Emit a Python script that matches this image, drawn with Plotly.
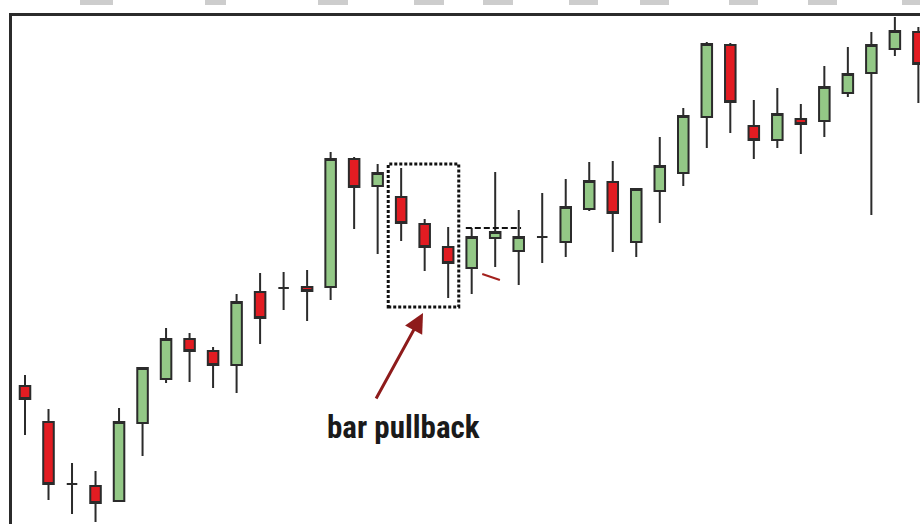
import plotly.graph_objects as go

# ---- data (price points) ----
bars = list(range(39))
open_ = [138, 102, 40, 38, 23, 101, 145, 185, 173, 159, 232, 236, 237, 237, 365, 338, 327, 300, 277, 256,
         286, 273, 287, 282, 315, 342, 282, 333, 351, 407, 479, 398, 384, 405, 403, 431, 451, 475, 492]
high = [149, 115, 61, 53, 116, 157, 196, 191, 177, 230, 251, 252, 254, 372, 367, 360, 356, 305, 297, 296,
        352, 314, 331, 345, 362, 363, 335, 387, 416, 482, 481, 424, 436, 420, 458, 477, 492, 507, 497]
low = [89, 24, 10, 2, 23, 68, 141, 142, 136, 131, 180, 214, 203, 224, 295, 270, 283, 253, 226, 230,
       257, 239, 261, 267, 313, 272, 267, 301, 338, 376, 391, 365, 376, 370, 387, 427, 309, 468, 421]
close = [125, 40, 40, 21, 102, 156, 185, 173, 159, 222, 206, 236, 233, 365, 337, 351, 301, 277, 261, 287,
         292, 287, 287, 317, 343, 311, 335, 358, 408, 480, 422, 384, 410, 400, 437, 450, 479, 493, 460]

label_text = "bar pullback"

W, H = 920, 524
GREEN = "#93c886"
RED = "#e21c22"
EDGE = "#2b2b2b"

fig = go.Figure(go.Candlestick(
    x=bars, open=open_, high=high, low=low, close=close,
    increasing=dict(fillcolor=GREEN, line=dict(color=EDGE, width=2)),
    decreasing=dict(fillcolor=RED, line=dict(color=EDGE, width=2)),
    whiskerwidth=0,
    showlegend=False,
))

def px(x):
    return x / W

def py(y):
    return 1 - y / H

shapes = []
# grey tabs at the very top
for x0, x1 in [(80, 113), (205, 226), (318, 348), (414, 444), (483, 513), (569, 598),
               (640, 669), (729, 758), (808, 837), (902, 925)]:
    shapes.append(dict(type="rect", xref="paper", yref="paper", x0=px(x0), x1=px(x1),
                       y0=py(5), y1=py(-2), fillcolor="#cdcdcd", line=dict(width=0), layer="above"))
# frame (left and top edges)
shapes.append(dict(type="line", xref="paper", yref="paper", x0=px(10.5), x1=px(10.5),
                   y0=py(530), y1=py(13), line=dict(color=EDGE, width=3)))
shapes.append(dict(type="line", xref="paper", yref="paper", x0=px(9), x1=px(925),
                   y0=py(14.5), y1=py(14.5), line=dict(color=EDGE, width=3)))
# dotted box around the pullback bars
shapes.append(dict(type="rect", xref="x", yref="y", x0=15.45, x1=18.45, y0=217, y1=360,
                   line=dict(color="#111111", width=3, dash="3px,2px"), layer="above"))
# dashed line over the following bars
shapes.append(dict(type="line", xref="x", yref="y", x0=18.75, x1=21.1, y0=296, y1=296,
                   line=dict(color="#111111", width=2, dash="6px,3px")))
# small red stroke
shapes.append(dict(type="line", xref="x", yref="y", x0=19.45, x1=20.2, y0=250, y1=244,
                   line=dict(color="#a3201c", width=2)))

annotations = [
    dict(x=16.93, y=211, ax=14.9, ay=124, xref="x", yref="y", axref="x", ayref="y",
         text="", showarrow=True, arrowhead=2, arrowsize=1.3, arrowwidth=3,
         arrowcolor="#8e1b1b", standoff=0, startstandoff=0),
    dict(x=16.08, y=97, xref="x", yref="y", text=label_text, showarrow=False,
         font=dict(family="Roboto Condensed, Open Sans Condensed, sans-serif",
                   size=31, color="#1a1a1a", weight="bold")),
]

x_left = -25 / 23.51
x_right = (W - 25) / 23.51
fig.update_layout(
    width=W, height=H, autosize=False,
    margin=dict(l=0, r=0, t=0, b=0),
    paper_bgcolor="white", plot_bgcolor="white",
    boxgap=0.36,
    xaxis=dict(range=[x_left, x_right], visible=False, rangeslider=dict(visible=False), fixedrange=True),
    yaxis=dict(range=[0, H], visible=False, fixedrange=True),
    shapes=shapes, annotations=annotations,
    showlegend=False,
)

fig.write_html("out.html", config={"displayModeBar": False},
               post_script="document.body.style.margin='0';")
